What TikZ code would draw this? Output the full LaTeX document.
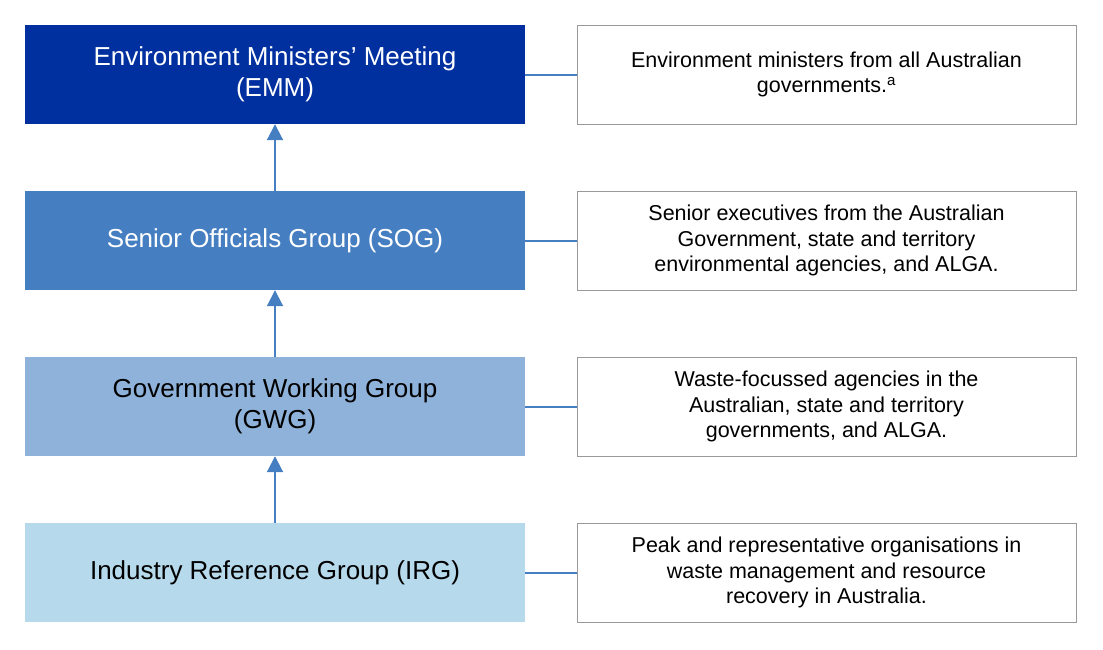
\documentclass[tikz,border=0pt]{standalone}
\usepackage{fontspec}
\setmainfont{Liberation Sans}
\usetikzlibrary{arrows.meta}
\definecolor{cemm}{RGB}{0,48,160}
\definecolor{csog}{RGB}{70,127,193}
\definecolor{cgwg}{RGB}{143,178,218}
\definecolor{cirg}{RGB}{182,217,236}
\definecolor{cline}{RGB}{70,127,193}
\begin{document}
\begin{tikzpicture}[x=1pt,y=-1pt,
  lbox/.style={minimum width=500pt,minimum height=99pt,inner sep=0pt,align=center,font=\fontsize{26}{31}\selectfont},
  rbox/.style={draw=gray!80,line width=0.8pt,minimum width=499pt,minimum height=99pt,inner sep=0pt,align=center,font=\fontsize{21.5}{25.5}\selectfont},
  conn/.style={draw=cline,line width=2pt},
  up/.style={conn,-{Triangle[length=16pt,width=16pt]}}]
\useasboundingbox (0,0) rectangle (1103,649);
\node[lbox,fill=cemm,text=white] (emm) at (275,74.5) {Environment Ministers’ Meeting\\(EMM)};
\node[lbox,fill=csog,text=white] (sog) at (275,240.5) {Senior Officials Group (SOG)};
\node[lbox,fill=cgwg] (gwg) at (275,406.5) {Government Working Group\\(GWG)};
\node[lbox,fill=cirg] (irg) at (275,572.5) {Industry Reference Group (IRG)};
\node[rbox] (r1) at (826.5,74.5) {Environment ministers from all Australian\\governments.\textsuperscript{a}};
\node[rbox] (r2) at (826.5,240.5) {Senior executives from the Australian\\Government, state and territory\\environmental agencies, and ALGA.};
\node[rbox] (r3) at (826.5,406.5) {Waste-focussed agencies in the\\Australian, state and territory\\governments, and ALGA.};
\node[rbox] (r4) at (826.5,572.5) {Peak and representative organisations in\\waste management and resource\\recovery in Australia.};
\foreach \a/\b in {emm/r1,sog/r2,gwg/r3,irg/r4} \draw[conn] (\a.east) -- (\b.west);
\draw[up] (sog.north) -- (emm.south);
\draw[up] (gwg.north) -- (sog.south);
\draw[up] (irg.north) -- (gwg.south);
\end{tikzpicture}
\end{document}
